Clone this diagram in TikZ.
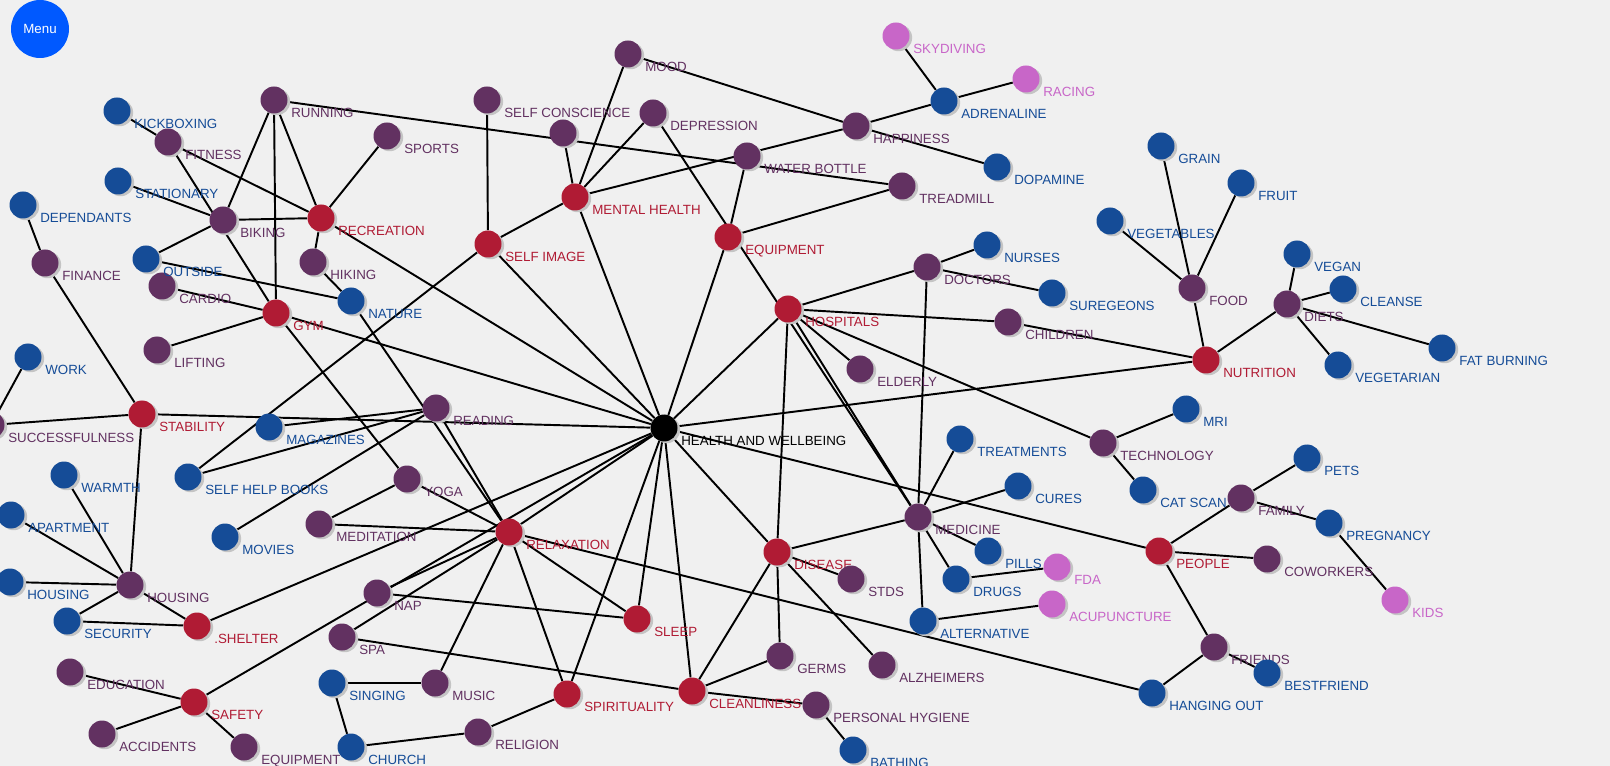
\documentclass[tikz,border=0pt]{standalone}
\usepackage{fontspec}
\setmainfont{Liberation Sans}
\usepackage{tikz}
\usetikzlibrary{shadows}
\definecolor{plum}{RGB}{98, 49, 97}
\definecolor{navy}{RGB}{21, 76, 151}
\definecolor{crimson}{RGB}{176, 27, 52}
\definecolor{orchid}{RGB}{200, 102, 200}
\definecolor{menublue}{RGB}{0, 89, 255}
\definecolor{canvasgray}{RGB}{240, 240, 240}
\definecolor{shade}{RGB}{196, 196, 196}
\newcommand{\tagfont}{\fontsize{10pt}{12pt}\selectfont}
\pgfdeclarelayer{canvas}
\pgfdeclarelayer{links}
\pgfsetlayers{canvas,links,main}
\tikzset{
  spot/.style={
    circle,
    fill=#1,
    minimum size=20.25pt,
    inner sep=0pt,
    drop shadow={shadow xshift=2pt, shadow yshift=-1.3pt, fill=shade, opacity=1}
  },
  tag/.style={
    anchor=base west,
    inner sep=0pt,
    xshift=5.5pt,
    yshift=-5.9pt,
    font=\tagfont
  },
  topic/.style 2 args={
    spot=#1,
    label={[tag, text=#1]-45:#2}
  },
  every edge/.style={
    draw=black,
    line width=1.45pt
  }
}

\begin{document}
\begin{tikzpicture}[x=0.75pt, y=-0.75pt]
  \useasboundingbox (0,0) rectangle (1610,766);
  \begin{pgfonlayer}{canvas}
    \fill[canvasgray] (0,0) rectangle (1610,766);
  \end{pgfonlayer}

  \node[circle, fill=menublue, minimum size=43.5pt, inner sep=0pt, text=white, font=\tagfont] (menu) at (40,29) {Menu};

  % hub
  \node[topic={black}{HEALTH AND WELLBEING}] (health) at (664,428) {};

  % categories
  \node[topic={crimson}{RECREATION}] (recreation) at (321,218) {};
  \node[topic={crimson}{GYM}] (gym) at (276,313) {};
  \node[topic={crimson}{SELF IMAGE}] (selfimage) at (488,244) {};
  \node[topic={crimson}{MENTAL HEALTH}] (mentalhealth) at (575,197) {};
  \node[topic={crimson}{EQUIPMENT}] (equipment) at (728,237) {};
  \node[topic={crimson}{HOSPITALS}] (hospitals) at (788,309) {};
  \node[topic={crimson}{NUTRITION}] (nutrition) at (1206,360) {};
  \node[topic={crimson}{STABILITY}] (stability) at (142,414) {};
  \node[topic={crimson}{RELAXATION}] (relaxation) at (509,532) {};
  \node[topic={crimson}{.SHELTER}] (shelter) at (197,626) {};
  \node[topic={crimson}{SAFETY}] (safety) at (194,702) {};
  \node[topic={crimson}{SLEEP}] (sleep) at (637,619) {};
  \node[topic={crimson}{SPIRITUALITY}] (spirituality) at (567,694) {};
  \node[topic={crimson}{CLEANLINESS}] (cleanliness) at (692,691) {};
  \node[topic={crimson}{DISEASE}] (disease) at (777,552) {};
  \node[topic={crimson}{PEOPLE}] (people) at (1159,551) {};

  % subtopics
  \node[topic={plum}{RUNNING}] (running) at (274,100) {};
  \node[topic={plum}{FITNESS}] (fitness) at (168,142) {};
  \node[topic={plum}{SELF CONSCIENCE}] (selfcon) at (487,100) {};
  \node[topic={plum}{SPORTS}] (sports) at (387,136) {};
  \node[topic={plum}{BIKING}] (biking) at (223,220) {};
  \node[topic={plum}{FINANCE}] (finance) at (45,263) {};
  \node[topic={plum}{HIKING}] (hiking) at (313,262) {};
  \node[topic={plum}{CARDIO}] (cardio) at (162,286) {};
  \node[topic={plum}{LIFTING}] (lifting) at (157,350) {};
  \node[topic={plum}{MOOD}] (mood) at (628,54) {};
  \node[topic={plum}{DEPRESSION}] (depression) at (653,113) {};
  \node[spot=plum] (blank) at (563,133) {};
  \node[topic={plum}{WATER BOTTLE}] (waterbottle) at (747,156) {};
  \node[topic={plum}{HAPPINESS}] (happiness) at (856,126) {};
  \node[topic={plum}{TREADMILL}] (treadmill) at (902,186) {};
  \node[topic={plum}{DOCTORS}] (doctors) at (927,267) {};
  \node[topic={plum}{CHILDREN}] (children) at (1008,322) {};
  \node[topic={plum}{ELDERLY}] (elderly) at (860,369) {};
  \node[topic={plum}{FOOD}] (food) at (1192,288) {};
  \node[topic={plum}{DIETS}] (diets) at (1287,304) {};
  \node[topic={plum}{SUCCESSFULNESS}] (successfulness) at (-9,425) {};
  \node[topic={plum}{READING}] (reading) at (436,408) {};
  \node[topic={plum}{YOGA}] (yoga) at (407,479) {};
  \node[topic={plum}{MEDITATION}] (meditation) at (319,524) {};
  \node[topic={plum}{HOUSING}] (housing) at (130,585) {};
  \node[topic={plum}{NAP}] (nap) at (377,593) {};
  \node[topic={plum}{SPA}] (spa) at (342,637) {};
  \node[topic={plum}{EDUCATION}] (education) at (70,672) {};
  \node[topic={plum}{MUSIC}] (music) at (435,683) {};
  \node[topic={plum}{ACCIDENTS}] (accidents) at (102,734) {};
  \node[topic={plum}{EQUIPMENT}] (gear) at (244,747) {};
  \node[topic={plum}{RELIGION}] (religion) at (478,732) {};
  \node[topic={plum}{MEDICINE}] (medicine) at (918,517) {};
  \node[topic={plum}{STDS}] (stds) at (851,579) {};
  \node[topic={plum}{GERMS}] (germs) at (780,656) {};
  \node[topic={plum}{ALZHEIMERS}] (alzheimers) at (882,665) {};
  \node[topic={plum}{PERSONAL HYGIENE}] (hygiene) at (816,705) {};
  \node[topic={plum}{TECHNOLOGY}] (technology) at (1103,443) {};
  \node[topic={plum}{FAMILY}] (family) at (1241,498) {};
  \node[topic={plum}{COWORKERS}] (coworkers) at (1267,559) {};
  \node[topic={plum}{FRIENDS}] (friends) at (1214,647) {};

  % details
  \node[topic={navy}{KICKBOXING}] (kickboxing) at (117,111) {};
  \node[topic={navy}{STATIONARY}] (stationary) at (118,181) {};
  \node[topic={navy}{DEPENDANTS}] (dependants) at (23,205) {};
  \node[topic={navy}{OUTSIDE}] (outside) at (146,259) {};
  \node[topic={navy}{NATURE}] (nature) at (351,301) {};
  \node[topic={navy}{WORK}] (work) at (28,357) {};
  \node[topic={navy}{ADRENALINE}] (adrenaline) at (944,101) {};
  \node[topic={navy}{DOPAMINE}] (dopamine) at (997,167) {};
  \node[topic={navy}{NURSES}] (nurses) at (987,245) {};
  \node[topic={navy}{SUREGEONS}] (suregeons) at (1052,293) {};
  \node[topic={navy}{GRAIN}] (grain) at (1161,146) {};
  \node[topic={navy}{FRUIT}] (fruit) at (1241,183) {};
  \node[topic={navy}{VEGETABLES}] (vegetables) at (1110,221) {};
  \node[topic={navy}{VEGAN}] (vegan) at (1297,254) {};
  \node[topic={navy}{CLEANSE}] (cleanse) at (1343,289) {};
  \node[topic={navy}{FAT BURNING}] (fatburning) at (1442,348) {};
  \node[topic={navy}{VEGETARIAN}] (vegetarian) at (1338,365) {};
  \node[topic={navy}{MAGAZINES}] (magazines) at (269,427) {};
  \node[topic={navy}{WARMTH}] (warmth) at (64,475) {};
  \node[topic={navy}{SELF HELP BOOKS}] (selfhelp) at (188,477) {};
  \node[topic={navy}{APARTMENT}] (apartment) at (11,515) {};
  \node[topic={navy}{MOVIES}] (movies) at (225,537) {};
  \node[topic={navy}{HOUSING}] (dwelling) at (10,582) {};
  \node[topic={navy}{SECURITY}] (security) at (67,621) {};
  \node[topic={navy}{SINGING}] (singing) at (332,683) {};
  \node[topic={navy}{CHURCH}] (church) at (351,747) {};
  \node[topic={navy}{TREATMENTS}] (treatments) at (960,439) {};
  \node[topic={navy}{CURES}] (cures) at (1018,486) {};
  \node[topic={navy}{PILLS}] (pills) at (988,551) {};
  \node[topic={navy}{DRUGS}] (drugs) at (956,579) {};
  \node[topic={navy}{ALTERNATIVE}] (alternative) at (923,621) {};
  \node[topic={navy}{BATHING}] (bathing) at (853,750) {};
  \node[topic={navy}{MRI}] (mri) at (1186,409) {};
  \node[topic={navy}{CAT SCAN}] (catscan) at (1143,490) {};
  \node[topic={navy}{PETS}] (pets) at (1307,458) {};
  \node[topic={navy}{PREGNANCY}] (pregnancy) at (1329,523) {};
  \node[topic={navy}{BESTFRIEND}] (bestfriend) at (1267,673) {};
  \node[topic={navy}{HANGING OUT}] (hangingout) at (1152,693) {};

  \node[topic={orchid}{SKYDIVING}] (skydiving) at (896,36) {};
  \node[topic={orchid}{RACING}] (racing) at (1026,79) {};
  \node[topic={orchid}{FDA}] (fda) at (1057,567) {};
  \node[topic={orchid}{ACUPUNCTURE}] (acupuncture) at (1052,604) {};
  \node[topic={orchid}{KIDS}] (kids) at (1395,600) {};

  \begin{pgfonlayer}{links}
    \path (kickboxing) edge (fitness)  (fitness) edge (recreation)  (fitness) edge (gym)
          (running) edge (biking)  (running) edge (gym)  (running) edge (recreation)
          (running) edge (treadmill)  (sports) edge (recreation)  (stationary) edge (biking)
          (biking) edge (recreation)  (biking) edge (outside)  (dependants) edge (finance)
          (finance) edge (stability)  (recreation) edge (hiking)  (recreation) edge (health)
          (outside) edge (nature)  (cardio) edge (gym)  (hiking) edge (nature)
          (nature) edge (relaxation)  (gym) edge (yoga)  (gym) edge (health)
          (lifting) edge (gym)  (selfcon) edge (selfimage)  (selfimage) edge (mentalhealth)
          (selfimage) edge (health)  (selfimage) edge (selfhelp)  (work) edge (successfulness);
    \path (mood) edge (happiness)  (mood) edge (mentalhealth)  (depression) edge (mentalhealth)
          (depression) edge (medicine)  (blank) edge (mentalhealth)  (mentalhealth) edge (happiness)
          (happiness) edge (adrenaline)  (waterbottle) edge (equipment)  (equipment) edge (treadmill)
          (happiness) edge (dopamine)  (skydiving) edge (adrenaline)  (adrenaline) edge (racing)
          (mentalhealth) edge (health)  (equipment) edge (health);
    \path (hospitals) edge (doctors)  (doctors) edge (nurses)  (doctors) edge (suregeons)
          (doctors) edge (medicine)  (hospitals) edge (children)  (children) edge (nutrition)
          (hospitals) edge (elderly)  (hospitals) edge (technology)  (hospitals) edge (disease)
          (hospitals) edge (health)  (hospitals) edge (medicine);
    \path (grain) edge (food)  (fruit) edge (food)  (vegetables) edge (food)
          (food) edge (nutrition)  (nutrition) edge (diets)  (diets) edge (vegan)
          (diets) edge (cleanse)  (diets) edge (fatburning)  (diets) edge (vegetarian)
          (health) edge (nutrition);
    \path (successfulness) edge (stability)  (stability) edge (health)  (stability) edge (housing)
          (magazines) edge (reading)  (selfhelp) edge (reading)  (movies) edge (reading)
          (reading) edge (relaxation)  (yoga) edge (relaxation)  (yoga) edge (meditation)
          (meditation) edge (relaxation)  (warmth) edge (housing)  (apartment) edge (housing)
          (dwelling) edge (housing)  (housing) edge (security)  (housing) edge (shelter)
          (security) edge (shelter)  (shelter) edge (health)  (safety) edge (health)
          (nap) edge (relaxation)  (spa) edge (relaxation)  (relaxation) edge (health)
          (nap) edge (sleep)  (spa) edge (cleanliness)  (singing) edge (music)
          (singing) edge (church)  (church) edge (religion)  (music) edge (relaxation)
          (religion) edge (spirituality)  (education) edge (safety)  (safety) edge (accidents)
          (safety) edge (gear);
    \path (health) edge (people)  (health) edge (disease)  (health) edge (sleep)
          (health) edge (cleanliness)  (health) edge (spirituality)  (relaxation) edge (sleep)
          (relaxation) edge (hangingout)  (relaxation) edge (spirituality);
    \path (disease) edge (medicine)  (disease) edge (stds)  (disease) edge (alzheimers)
          (disease) edge (germs)  (disease) edge (cleanliness)  (cleanliness) edge (germs)
          (cleanliness) edge (hygiene)  (hygiene) edge (bathing)  (medicine) edge (treatments)
          (medicine) edge (cures)  (medicine) edge (pills)  (medicine) edge (drugs)
          (medicine) edge (alternative)  (drugs) edge (fda)  (alternative) edge (acupuncture);
    \path (technology) edge (mri)  (technology) edge (catscan)  (family) edge (pets)
          (family) edge (pregnancy)  (pregnancy) edge (kids)  (people) edge (family)
          (people) edge (coworkers)  (people) edge (friends)  (friends) edge (bestfriend)
          (friends) edge (hangingout);
  \end{pgfonlayer}
\end{tikzpicture}
\end{document}
